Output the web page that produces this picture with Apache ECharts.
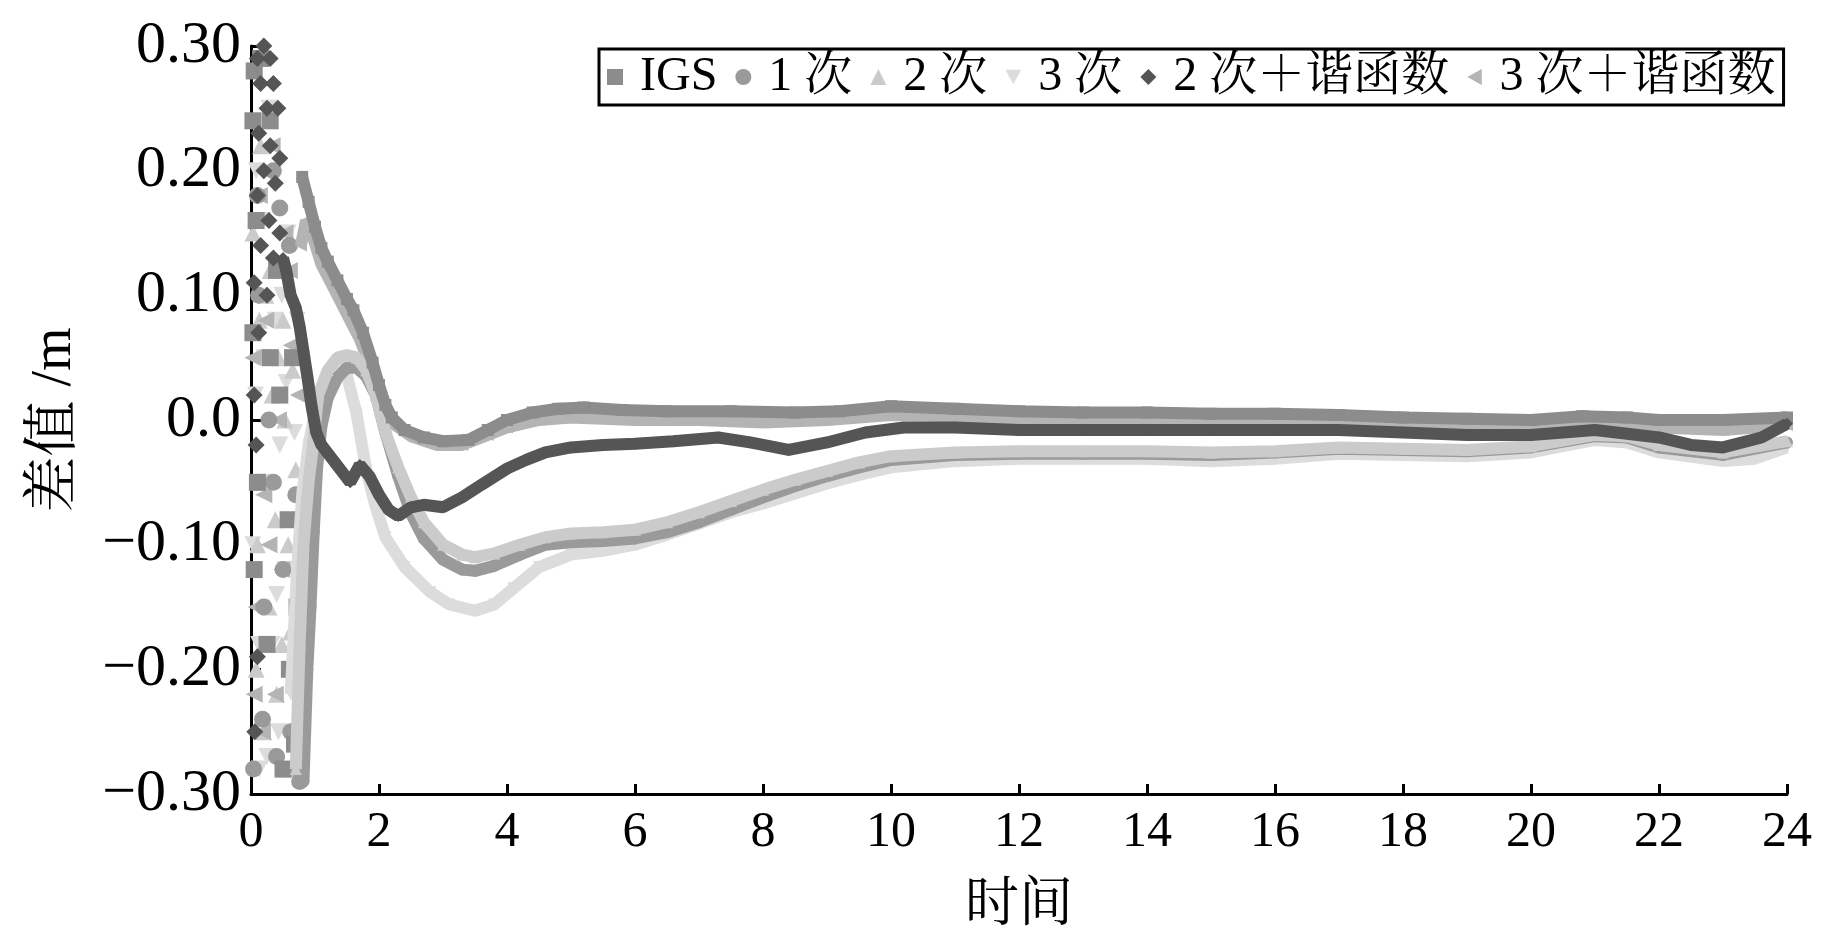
<!DOCTYPE html>
<html>
<head>
<meta charset="utf-8">
<title>差值</title>
<script src="https://cdn.jsdelivr.net/npm/echarts@6/dist/echarts.min.js"></script>
<style>
    html, body { margin: 0; padding: 0; background: #fff; }
    #chart { width: 1843px; height: 945px; }
</style>
</head>
<body>
<div id="chart"></div>
<script>
// 图例名称
const seriesNames = ['IGS', '1 次', '2 次', '3 次', '2 次＋谐函数', '3 次＋谐函数'];

// 坐标轴刻度
const xTicks = [0, 2, 4, 6, 8, 10, 12, 14, 16, 18, 20, 22, 24];
const yTicks = [-0.3, -0.2, -0.1, 0, 0.1, 0.2, 0.3];

// 各模型差值曲线 [时间, 差值/m]
const igsData = [
    [0.8, 0.195], [0.9, 0.175], [1.0, 0.155],
    [1.1, 0.138], [1.2, 0.127], [1.35, 0.112], [1.5, 0.097], [1.6, 0.088], [1.75, 0.07],
    [1.9, 0.046], [2.0, 0.028], [2.1, 0.012], [2.2, 0.002], [2.4, -0.008], [2.7, -0.014],
    [3.0, -0.017], [3.4, -0.016], [3.7, -0.008], [4.0, 0.0], [4.4, 0.006], [4.8, 0.009],
    [5.2, 0.01], [5.8, 0.008], [6.5, 0.007], [7.5, 0.007], [8.5, 0.006], [9.2, 0.007],
    [10, 0.011], [11, 0.009], [12, 0.007], [13, 0.006], [14, 0.006], [15, 0.005], [16, 0.005],
    [17, 0.004], [18, 0.002], [19, 0.001], [20, 0.0], [20.8, 0.003], [21.5, 0.002], [22, 0.0],
    [23, 0.0], [24, 0.002]
];
const order1Data = [
    [0.82, -0.29], [0.88, -0.2], [0.93, -0.15],
    [0.98, -0.09], [1.03, -0.04], [1.1, -0.005], [1.2, 0.018], [1.35, 0.034], [1.5, 0.042],
    [1.65, 0.042], [1.8, 0.035], [1.95, 0.02], [2.1, -0.01], [2.3, -0.045], [2.5, -0.075],
    [2.7, -0.095], [3.0, -0.112], [3.3, -0.12], [3.5, -0.121], [3.8, -0.117], [4.2, -0.108],
    [4.6, -0.1], [5.0, -0.098], [5.5, -0.097], [6.0, -0.095], [6.5, -0.09], [7.0, -0.082],
    [7.5, -0.072], [8.0, -0.062], [8.5, -0.053], [9.0, -0.045], [9.5, -0.038], [10.0, -0.032],
    [11, -0.028], [12, -0.027], [13, -0.027], [14, -0.027], [15, -0.028], [16, -0.026],
    [17, -0.023], [18, -0.024], [19, -0.025], [20, -0.022], [21, -0.013], [21.5, -0.014],
    [22, -0.022], [23, -0.028], [24, -0.018]
];
const order2Data = [
    [0.7, -0.28], [0.76, -0.18], [0.82, -0.1], [0.9, -0.05], [0.97, -0.02], [1.05, 0.02],
    [1.2, 0.04], [1.35, 0.05], [1.5, 0.052], [1.65, 0.05], [1.8, 0.04], [1.95, 0.02],
    [2.1, -0.01], [2.3, -0.038], [2.5, -0.062], [2.7, -0.082], [3.0, -0.1], [3.3, -0.108],
    [3.5, -0.11], [3.8, -0.107], [4.2, -0.1], [4.6, -0.094], [5.0, -0.091], [5.5, -0.09],
    [6.0, -0.088], [6.5, -0.082], [7.0, -0.074], [7.5, -0.065], [8.0, -0.056], [8.5, -0.048],
    [9.0, -0.041], [9.5, -0.034], [10.0, -0.029], [11, -0.026], [12, -0.025], [13, -0.025],
    [14, -0.025], [15, -0.026], [16, -0.025], [17, -0.022], [18, -0.023], [19, -0.024],
    [20, -0.021], [21, -0.012], [21.5, -0.013], [22, -0.02], [23, -0.026], [24, -0.017]
];
const order3Data = [
    [0.62, -0.22], [0.72, -0.12], [0.8, -0.06], [0.9, -0.02], [1.05, 0.02],
    [1.2, 0.035], [1.35, 0.045], [1.5, 0.035], [1.65, 0.005], [1.8, -0.04], [1.95, -0.07],
    [2.1, -0.094], [2.4, -0.118], [2.8, -0.138], [3.1, -0.148], [3.5, -0.153], [3.8, -0.148],
    [4.1, -0.135], [4.5, -0.118], [5.0, -0.108], [5.5, -0.105], [6.0, -0.1], [6.5, -0.092],
    [7, -0.083], [7.5, -0.074], [8, -0.067], [8.5, -0.059], [9, -0.051], [9.5, -0.044],
    [10, -0.038], [11, -0.033], [12, -0.031], [13, -0.031], [14, -0.031], [15, -0.033],
    [16, -0.031], [17, -0.027], [18, -0.028], [19, -0.029], [20, -0.026], [21, -0.016],
    [21.5, -0.018], [22, -0.026], [23, -0.033], [23.5, -0.031], [24, -0.022]
];
const order2HarmData = [
    [0.5, 0.13], [0.55, 0.12], [0.62, 0.1], [0.7, 0.09], [0.76, 0.075],
    [0.82, 0.055], [0.88, 0.035], [0.95, 0.01], [1.02, -0.01], [1.1, -0.02], [1.25, -0.03],
    [1.4, -0.04], [1.55, -0.05], [1.7, -0.036], [1.85, -0.045], [2.0, -0.06], [2.15, -0.072],
    [2.3, -0.077], [2.5, -0.07], [2.7, -0.068], [3.0, -0.07], [3.3, -0.062], [3.6, -0.052],
    [4.0, -0.039], [4.3, -0.032], [4.6, -0.026], [5.0, -0.022], [5.5, -0.02], [6.0, -0.019],
    [6.6, -0.017], [7.3, -0.014], [7.8, -0.018], [8.4, -0.024], [9.0, -0.018], [9.6, -0.01],
    [10.2, -0.006], [11, -0.006], [12, -0.008], [13, -0.008], [14, -0.008], [15, -0.008],
    [16, -0.008], [17, -0.008], [18, -0.01], [19, -0.012], [20, -0.012], [21, -0.008],
    [22, -0.014], [22.5, -0.02], [23, -0.022], [23.6, -0.014], [24, -0.003]
];
const order3HarmData = [
    [0.78, 0.14], [0.86, 0.16], [0.95, 0.15], [1.1, 0.125],
    [1.3, 0.105], [1.5, 0.085], [1.7, 0.065], [1.9, 0.038], [2.05, 0.015], [2.2, -0.002],
    [2.5, -0.013], [2.9, -0.02], [3.3, -0.02], [3.7, -0.012], [4.0, -0.006], [4.5, 0.0],
    [5.0, 0.002], [5.5, 0.001], [6.0, 0.0], [7, 0.0], [8, -0.002], [9, 0.0], [10, 0.004],
    [11, 0.003], [12, 0.001], [13, 0.0], [14, 0.0], [15, 0.0], [16, -0.001], [17, -0.002],
    [18, -0.004], [19, -0.005], [20, -0.006], [21, -0.003], [22, -0.006], [23, -0.008],
    [24, -0.004]
];

// 开始阶段（约 0~0.8 h）散乱的标记点
const igsStart = [
    [0.05, 0.28], [0.15, 0.29], [0.03, 0.24], [0.3, 0.24], [0.08, 0.16], [0.4, 0.12],
    [0.03, 0.07], [0.3, 0.05], [0.1, -0.05], [0.05, -0.12], [0.25, -0.18], [0.6, -0.2],
    [0.68, -0.26], [0.5, -0.28], [0.72, -0.15], [0.58, -0.08], [0.45, 0.02], [0.65, 0.05]
];
const order1Start = [
    [0.04, -0.28], [0.12, 0.1], [0.2, -0.15], [0.35, 0.2], [0.18, -0.24], [0.28, 0.0],
    [0.4, -0.27], [0.45, 0.17], [0.5, -0.12], [0.62, -0.25], [0.7, -0.06], [0.76, -0.29],
    [0.1, 0.18], [0.35, -0.05], [0.6, 0.14]
];
const order2Start = [
    [0.03, 0.15], [0.08, -0.2], [0.13, 0.08], [0.18, -0.05], [0.23, 0.1], [0.28, -0.15],
    [0.33, 0.02], [0.38, -0.08], [0.43, 0.05], [0.48, -0.18], [0.53, 0.0], [0.58, -0.1],
    [0.65, 0.04], [0.1, -0.1], [0.2, -0.25], [0.4, -0.22], [0.5, 0.08], [0.3, 0.12],
    [0.55, -0.28], [0.15, 0.22], [0.7, -0.04], [0.62, -0.17]
];
const order3Start = [
    [0.03, -0.1], [0.08, 0.2], [0.13, -0.28], [0.18, 0.16], [0.23, -0.05], [0.28, 0.25],
    [0.33, -0.18], [0.38, 0.08], [0.43, -0.25], [0.48, 0.1], [0.53, -0.12], [0.58, 0.15],
    [0.66, -0.22], [0.07, 0.02], [0.25, -0.27], [0.45, -0.02], [0.2, 0.05], [0.55, 0.03],
    [0.4, -0.14], [0.12, -0.18], [0.72, 0.08], [0.68, -0.01]
];
const order2HarmStart = [
    [0.1, 0.29], [0.2, 0.3], [0.3, 0.29], [0.15, 0.27], [0.35, 0.27], [0.25, 0.25],
    [0.42, 0.25], [0.12, 0.23], [0.3, 0.22], [0.45, 0.21], [0.2, 0.2], [0.38, 0.19],
    [0.1, 0.18], [0.28, 0.16], [0.45, 0.15], [0.15, 0.14], [0.35, 0.13], [0.05, 0.11],
    [0.25, 0.1], [0.12, 0.07], [0.05, 0.02], [0.08, -0.02], [0.1, -0.19], [0.06, -0.25]
];
const order3HarmStart = [
    [0.03, 0.05], [0.08, -0.15], [0.13, 0.18], [0.18, -0.25], [0.23, 0.08], [0.28, -0.1],
    [0.33, 0.22], [0.38, -0.22], [0.43, 0.0], [0.48, -0.12], [0.53, 0.15], [0.58, -0.28],
    [0.63, 0.06], [0.7, -0.2], [0.6, 0.12], [0.2, -0.06], [0.05, -0.22], [0.74, 0.02]
];

const FONT = "'Liberation Serif', 'Noto Serif CJK SC', 'Noto Sans CJK SC', serif";
const DOWN_TRI = 'path://M0,0 L10,0 L5,9 Z';
const LEFT_TRI = 'path://M10,0 L10,10 L1,5 Z';

// 曲线（粗线近似原图的密集点带）
function makeLine (name, data, color, symbol, z) {
    return {
        name: name,
        type: 'line',
        data: data,
        z: z,
        symbol: symbol,
        symbolSize: 12,
        showSymbol: true,
        itemStyle: { color: color },
        lineStyle: { color: color, width: 12 },
        emphasis: { disabled: true },
        animation: false
    };
}

// 开始阶段的散点
function makeScatter (name, data, color, symbol, z) {
    return {
        name: name,
        type: 'scatter',
        data: data,
        z: z,
        symbol: symbol,
        symbolSize: 17,
        itemStyle: { color: color, opacity: 1 },
        emphasis: { disabled: true },
        animation: false
    };
}

const colors = ['#8c8c8c', '#9a9a9a', '#cbcbcb', '#dcdcdc', '#555555', '#b4b4b4'];
const symbols = ['rect', 'circle', 'triangle', DOWN_TRI, 'diamond', LEFT_TRI];

let myChart = echarts.init(document.getElementById('chart'));

myChart.setOption({
    backgroundColor: '#fff',
    animation: false,
    grid: {
        left: 251,
        right: 56,
        top: 46,
        bottom: 151
    },
    legend: {
        left: 599,
        top: 49,
        padding: [4, 8],
        itemGap: 18,
        itemWidth: 16,
        itemHeight: 16,
        borderColor: '#000',
        borderWidth: 3,
        backgroundColor: '#fff',
        formatter: function (name) {
            return ' ' + name;
        },
        textStyle: { fontFamily: FONT, fontSize: 48, color: '#000' },
        data: seriesNames.map(function (n, i) {
            return { name: n, icon: symbols[i] };
        })
    },
    xAxis: {
        type: 'value',
        min: xTicks[0],
        max: xTicks[xTicks.length - 1],
        interval: 2,
        name: '时间',
        nameLocation: 'middle',
        nameGap: 86,
        nameTextStyle: { fontFamily: FONT, fontSize: 54, color: '#000' },
        axisLine: { onZero: false, lineStyle: { color: '#000', width: 3 } },
        axisTick: { inside: true, length: 10, lineStyle: { color: '#000', width: 3 } },
        axisLabel: { fontFamily: FONT, fontSize: 50, color: '#000', margin: 14 },
        splitLine: { show: false }
    },
    yAxis: {
        type: 'value',
        min: yTicks[0],
        max: yTicks[yTicks.length - 1],
        interval: 0.1,
        name: '差值 /m',
        nameLocation: 'middle',
        nameGap: 168,
        nameRotate: 90,
        nameTextStyle: { fontFamily: FONT, fontSize: 56, color: '#000' },
        axisLine: { onZero: false, lineStyle: { color: '#000', width: 3 } },
        axisTick: { inside: true, length: 10, lineStyle: { color: '#000', width: 3 } },
        axisLabel: {
            fontFamily: FONT,
            fontSize: 60,
            color: '#000',
            margin: 10,
            formatter: function (v) {
                if (Math.abs(v) < 1e-9) return '0.0';
                const s = Math.abs(v).toFixed(2);
                return v < 0 ? '\u2212' + s : s;
            }
        },
        splitLine: { show: false }
    },
    series: [
        makeScatter(seriesNames[3], order3Start, colors[3], symbols[3], 1),
        makeScatter(seriesNames[2], order2Start, colors[2], symbols[2], 1),
        makeScatter(seriesNames[5], order3HarmStart, colors[5], symbols[5], 1),
        makeScatter(seriesNames[1], order1Start, colors[1], symbols[1], 1),
        makeScatter(seriesNames[0], igsStart, colors[0], symbols[0], 1),
        makeScatter(seriesNames[4], order2HarmStart, colors[4], symbols[4], 2),
        makeLine(seriesNames[3], order3Data, colors[3], symbols[3], 3),
        makeLine(seriesNames[5], order3HarmData, colors[5], symbols[5], 4),
        makeLine(seriesNames[1], order1Data, colors[1], symbols[1], 5),
        makeLine(seriesNames[2], order2Data, colors[2], symbols[2], 6),
        makeLine(seriesNames[0], igsData, colors[0], symbols[0], 7),
        makeLine(seriesNames[4], order2HarmData, colors[4], symbols[4], 8)
    ]
});

window.addEventListener('resize', function () {
    myChart.resize();
});
</script>
</body>
</html>
